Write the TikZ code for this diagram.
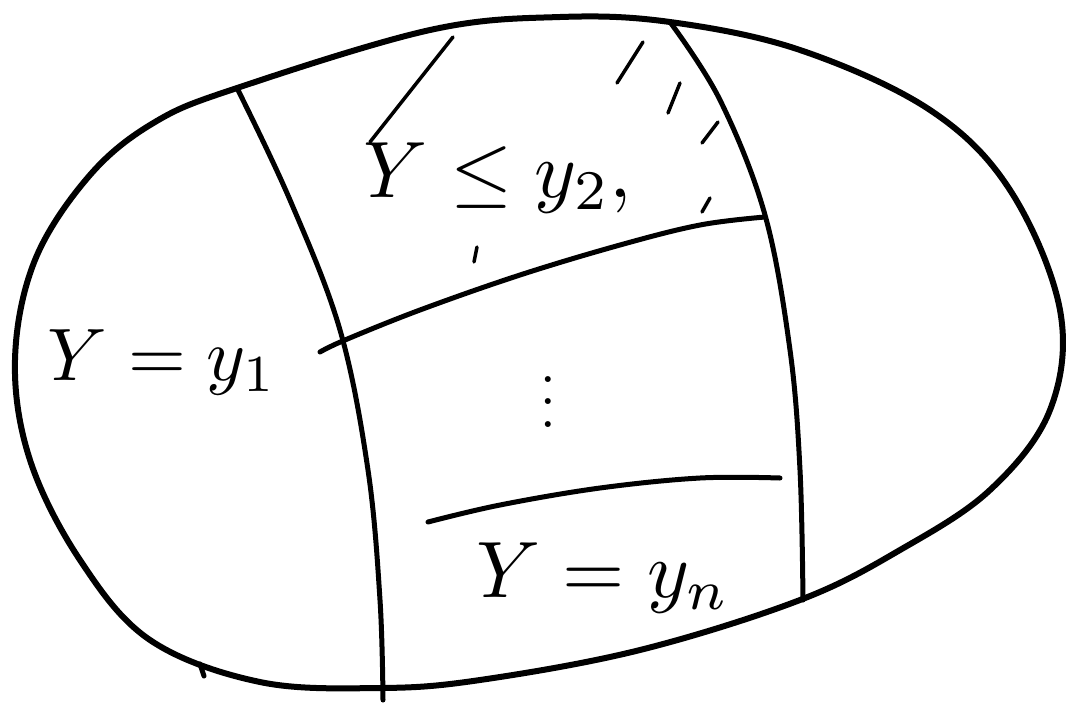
\documentclass[tikz,border=0pt]{standalone}
\usepackage{amsmath}
\usepackage{amssymb}

\begin{document}
\begin{tikzpicture}[x=1pt,y=-1pt,
        pen/.style={line width=5pt,line cap=round,line join=round},
        hatch/.style={line width=3.5pt,line cap=round},
        lbl/.style={inner sep=0pt,scale=8}]
    \useasboundingbox (0,0) rectangle (1069,705);
    \draw[pen,line width=6pt] plot[smooth cycle,tension=0.6] coordinates {
        (237,88) (430,30) (560,17) (670,22) (800,50) (930,110) (1010,190)
        (1060,310) (1050,410) (990,490) (900,550) (800,600) (640,650)
        (480,680) (380,688) (260,682) (150,640) (80,560) (30,460)
        (15,360) (35,260) (90,175) (155,122)};
    \draw[pen] (200,664) -- (204,676);
    \draw[pen] plot[smooth,tension=0.6] coordinates {
        (237,88) (290,200) (340,330) (368,470) (380,600) (383,700)};
    \draw[pen] plot[smooth,tension=0.6] coordinates {
        (670,22) (720,100) (765,215) (790,350) (800,470) (803,600)};
    \draw[pen] plot[smooth,tension=0.6] coordinates {
        (320,352) (345,340) (420,310) (520,275) (620,245) (700,225) (765,217)};
    \draw[pen] plot[smooth,tension=0.6] coordinates {
        (428,522) (500,505) (600,488) (700,478) (780,478)};
    \foreach \xa/\ya/\xb/\yb in {453/37/370/142, 643/42/617/83, 680/83/668/113,
        718/122/702/143, 710/198/702/212, 477/247/474/262} {
        \draw[hatch] (\xa,\ya) -- (\xb,\yb);
    }
    \node[lbl,scale=0.93] (first) at (162,362) {$Y=y_1$};
    \node[lbl] (second) at (498,178) {$Y\leq y_2,$};
    \node[lbl,scale=0.7] (dots) at (548,385) {$\vdots$};
    \node[lbl] (last) at (603,578) {$Y=y_n$};
\end{tikzpicture}
\end{document}
